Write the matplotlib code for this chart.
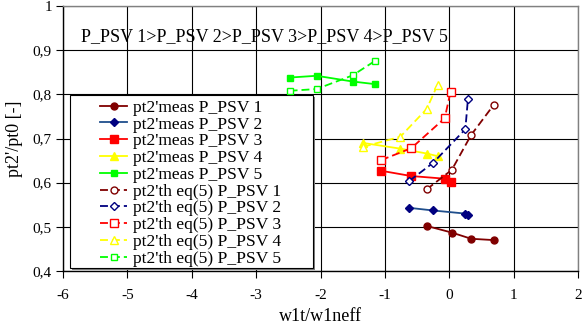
import matplotlib
matplotlib.use("Agg")
import matplotlib.pyplot as plt
from matplotlib.patches import Rectangle

plt.rcParams['font.family'] = ['Liberation Serif', 'DejaVu Serif']

# ---- data ----
x_psv1 = [-0.35, 0.04, 0.34, 0.69]
x_psv2 = [-0.62, -0.25, 0.25, 0.29]
x_psv3 = [-1.06, -0.59, -0.07, 0.02]
x_psv4 = [-1.34, -0.76, -0.35, -0.18]
x_psv5 = [-2.48, -2.06, -1.50, -1.15]

meas_psv1 = [0.502, 0.487, 0.473, 0.470]
meas_psv2 = [0.543, 0.537, 0.530, 0.527]
meas_psv3 = [0.627, 0.615, 0.609, 0.602]
meas_psv4 = [0.690, 0.677, 0.666, 0.660]
meas_psv5 = [0.838, 0.842, 0.829, 0.823]

th_psv1 = [0.585, 0.629, 0.708, 0.776]
th_psv2 = [0.604, 0.645, 0.721, 0.789]
th_psv3 = [0.651, 0.678, 0.746, 0.806]
th_psv4 = [0.681, 0.704, 0.767, 0.822]
th_psv5 = [0.808, 0.812, 0.843, 0.876]

meas_labels = ["pt2'meas P_PSV 1", "pt2'meas P_PSV 2", "pt2'meas P_PSV 3",
               "pt2'meas P_PSV 4", "pt2'meas P_PSV 5"]
th_labels = ["pt2'th eq(5) P_PSV 1", "pt2'th eq(5) P_PSV 2", "pt2'th eq(5) P_PSV 3",
             "pt2'th eq(5) P_PSV 4", "pt2'th eq(5) P_PSV 5"]

x_ticks = [-6, -5, -4, -3, -2, -1, 0, 1, 2]
y_ticks = [0.4, 0.5, 0.6, 0.7, 0.8, 0.9, 1.0]
y_ticklabels = ["0,4", "0,5", "0,6", "0,7", "0,8", "0,9", "1"]
annotation = "P_PSV 1>P_PSV 2>P_PSV 3>P_PSV 4>P_PSV 5"

# ---- styles ----
xs = [x_psv1, x_psv2, x_psv3, x_psv4, x_psv5]
meas = [meas_psv1, meas_psv2, meas_psv3, meas_psv4, meas_psv5]
ths = [th_psv1, th_psv2, th_psv3, th_psv4, th_psv5]
meas_line_colors = ['#800000', '#1F4E8C', '#FF0000', '#FFFF00', '#00FF00']
marker_colors = ['#800000', '#000080', '#FF0000', '#FFFF00', '#00FF00']
meas_markers = ['o', 'D', 's', '^', 's']
meas_ms = [5.0, 3.8, 5.5, 5.5, 5.0]
th_markers = ['o', 'D', 's', '^', 's']
th_ms = [5.0, 3.8, 5.5, 5.5, 5.0]

W, H = 582, 326
fig = plt.figure(figsize=(W / 100, H / 100), dpi=100)
L, R, T, B = 63, 578, 6, 271
ax = fig.add_axes([L / W, 1 - B / H, (R - L) / W, (B - T) / H])

ax.set_xlim(-6, 2)
ax.set_ylim(0.4, 1.0)
ax.set_xticks(x_ticks)
ax.set_xticklabels([str(v) for v in x_ticks])
ax.set_yticks(y_ticks)
ax.set_yticklabels(y_ticklabels)
ax.tick_params(axis='both', labelsize=11, direction='out', length=5, width=0.8,
               colors='black')
ax.tick_params(axis='x', pad=8)
ax.tick_params(axis='y', pad=3)
ax.grid(True, color='black', linewidth=0.8)
ax.set_axisbelow(True)
for s in ['top', 'right']:
    ax.spines[s].set_color('#808080')
for s in ['left', 'bottom']:
    ax.spines[s].set_color('black')
for s in ax.spines.values():
    s.set_linewidth(1.0)

handles = []
for i in range(5):
    h, = ax.plot(xs[i], meas[i], color=meas_line_colors[i], lw=1.3,
                 marker=meas_markers[i], ms=meas_ms[i],
                 mfc=marker_colors[i], mec=marker_colors[i], zorder=4)
    handles.append(h)
for i in range(5):
    h, = ax.plot(xs[i], ths[i], color=marker_colors[i], lw=1.3,
                 linestyle=(0, (4.4, 2.2)),
                 marker=th_markers[i], ms=th_ms[i],
                 mfc='white', mec=marker_colors[i], mew=1.0, zorder=4)
    handles.append(h)

ax.text((80.7 - L) / (R - L), (B - 41) / (B - T), annotation,
        transform=ax.transAxes, fontsize=13, va='baseline', ha='left', zorder=5)

ax.set_xlabel("w1t/w1neff", fontsize=13, labelpad=4)
ax.set_ylabel("pt2'/pt0 [-]", fontsize=13, labelpad=7)

# legend box (white, black frame, gray shadow)
def px2ax(px, py):
    return (px - L) / (R - L), (B - py) / (B - T)

lx0, ly0 = px2ax(70, 268)
lx1, ly1 = px2ax(313, 95)
sx, sy = 2 / (R - L), 2 / (B - T)
ax.add_patch(Rectangle((lx0 + sx, ly0 - sy), lx1 - lx0, ly1 - ly0,
                       transform=ax.transAxes, facecolor='#808080',
                       edgecolor='none', zorder=2.5, clip_on=False))
ax.add_patch(Rectangle((lx0, ly0), lx1 - lx0, ly1 - ly0,
                       transform=ax.transAxes, facecolor='white',
                       edgecolor='black', lw=0.8, zorder=2.6, clip_on=False))

hx, hy = px2ax(100, 99.5)
leg = ax.legend(handles, meas_labels + th_labels, loc='upper left',
                bbox_to_anchor=(hx, hy), bbox_transform=ax.transAxes,
                frameon=False, fontsize=12.6, borderpad=0, borderaxespad=0,
                handlelength=1.56, handletextpad=0.3, labelspacing=0.03)
leg.set_zorder(6)

fig.savefig("out.png", dpi=100)
